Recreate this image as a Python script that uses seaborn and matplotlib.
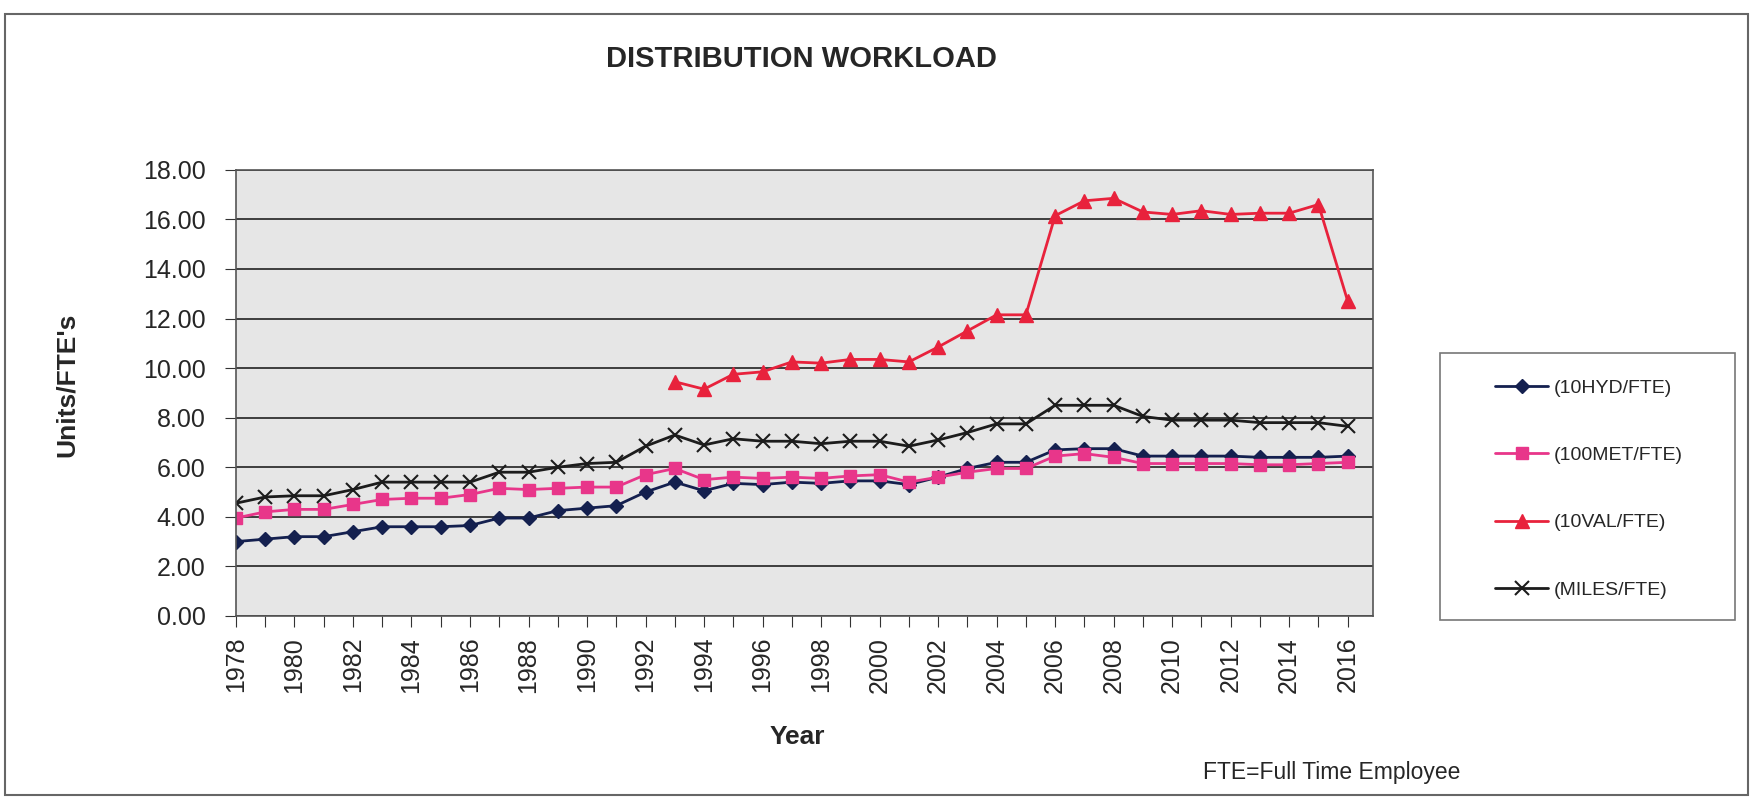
import numpy as np
import pandas as pd
import matplotlib
matplotlib.use("Agg")
import matplotlib.pyplot as plt
import seaborn as sns

years = list(range(1978, 2017))

hyd = [3.00, 3.10, 3.20, 3.20, 3.40, 3.60, 3.60, 3.60, 3.65, 3.95,
       3.95, 4.25, 4.35, 4.45, 5.00, 5.40, 5.05, 5.35, 5.30, 5.40,
       5.35, 5.45, 5.45, 5.30, 5.60, 5.95, 6.20, 6.20, 6.70, 6.75,
       6.75, 6.45, 6.45, 6.45, 6.45, 6.40, 6.40, 6.40, 6.45]

met = [3.95, 4.20, 4.30, 4.30, 4.50, 4.70, 4.75, 4.75, 4.90, 5.15,
       5.10, 5.15, 5.20, 5.20, 5.70, 5.95, 5.50, 5.60, 5.55, 5.60,
       5.55, 5.65, 5.70, 5.40, 5.60, 5.80, 5.95, 5.95, 6.45, 6.55,
       6.40, 6.15, 6.15, 6.15, 6.15, 6.10, 6.10, 6.15, 6.20]

# valve data only starts in 1993
val = [np.nan] * 15 + [9.45, 9.15, 9.75, 9.85, 10.25, 10.20, 10.35, 10.35,
                       10.25, 10.85, 11.50, 12.15, 12.15, 16.15, 16.75, 16.85,
                       16.30, 16.20, 16.35, 16.20, 16.25, 16.25, 16.60, 12.70]

miles = [4.55, 4.80, 4.85, 4.85, 5.10, 5.40, 5.40, 5.40, 5.40, 5.80,
         5.80, 6.00, 6.15, 6.20, 6.85, 7.30, 6.90, 7.15, 7.05, 7.05,
         6.95, 7.05, 7.05, 6.85, 7.10, 7.40, 7.75, 7.75, 8.50, 8.50,
         8.50, 8.05, 7.90, 7.90, 7.90, 7.80, 7.80, 7.80, 7.65]

series_names = ["(10HYD/FTE)", "(100MET/FTE)", "(10VAL/FTE)", "(MILES/FTE)"]
y_ticks = np.arange(0, 18.01, 2)

sns.set_style("white")
plt.rcParams["font.family"] = ["Liberation Sans", "DejaVu Sans"]

df = pd.DataFrame({"Year": years, series_names[0]: hyd, series_names[1]: met,
                   series_names[2]: val, series_names[3]: miles})

fig = plt.figure(figsize=(17.53, 8.01), dpi=100)
ax = fig.add_axes([0.1346, 0.231, 0.6484, 0.557])

styles = {
    "(10HYD/FTE)": dict(color="#14204f", marker="D", markersize=7),
    "(100MET/FTE)": dict(color="#e8368a", marker="s", markersize=9),
    "(10VAL/FTE)": dict(color="#e8223c", marker="^", markersize=10),
    "(MILES/FTE)": dict(color="#1c1c1c", marker="x", markersize=10, markeredgewidth=1.5),
}

for name in series_names:
    st = styles[name]
    sns.lineplot(data=df, x="Year", y=name, ax=ax, label=name, linewidth=2,
                 color=st["color"], marker=st["marker"], markersize=st["markersize"],
                 markeredgecolor=st["color"], markeredgewidth=st.get("markeredgewidth", 1))

ax.set_facecolor("#e6e6e6")
ax.set_xlim(1978, 2016.85)
ax.set_ylim(0, 18)
ax.set_yticks(y_ticks)
ax.set_yticklabels([f"{v:.2f}" for v in y_ticks], fontsize=18)
ax.set_xticks(years)
ax.set_xticklabels([str(y) if y % 2 == 0 else "" for y in years], rotation=90, fontsize=18)
ax.tick_params(axis="x", length=8, color="#333333", direction="out", bottom=True, pad=7)
ax.tick_params(axis="y", length=8, color="#333333", direction="out", left=True, pad=14)
ax.yaxis.grid(True, color="#222222", linewidth=1.2)
ax.set_axisbelow(True)
for s in ax.spines.values():
    s.set_color("#555555")
    s.set_linewidth(1.2)

ax.set_xlabel("")
ax.set_ylabel("")
fig.text(0.455, 0.080, "Year", fontsize=19, fontweight="bold", ha="center", va="center")
fig.text(0.038, 0.519, "Units/FTE's", fontsize=19, fontweight="bold", rotation=90,
         ha="center", va="center")
fig.text(0.457, 0.926, "DISTRIBUTION WORKLOAD", fontsize=21, fontweight="bold",
         ha="center", va="center")
fig.text(0.686, 0.035, "FTE=Full Time Employee", fontsize=16.5, ha="left", va="center")

leg = ax.legend(loc="center left", bbox_to_anchor=(0.853, 0.3895),
                bbox_transform=fig.transFigure, fontsize=14, frameon=False,
                labelspacing=2.55, handlelength=2.7, handletextpad=0.3,
                borderpad=0, borderaxespad=0)

# legend box and outer chart frame
fig.patches.append(plt.Rectangle((0.8215, 0.226), 0.1682, 0.333, transform=fig.transFigure,
                                 fill=False, edgecolor="#777777", linewidth=1.2))
fig.patches.append(plt.Rectangle((0.003, 0.008), 0.994, 0.975, transform=fig.transFigure,
                                 fill=False, edgecolor="#666666", linewidth=1.5))

fig.savefig("out.png", dpi=100)
